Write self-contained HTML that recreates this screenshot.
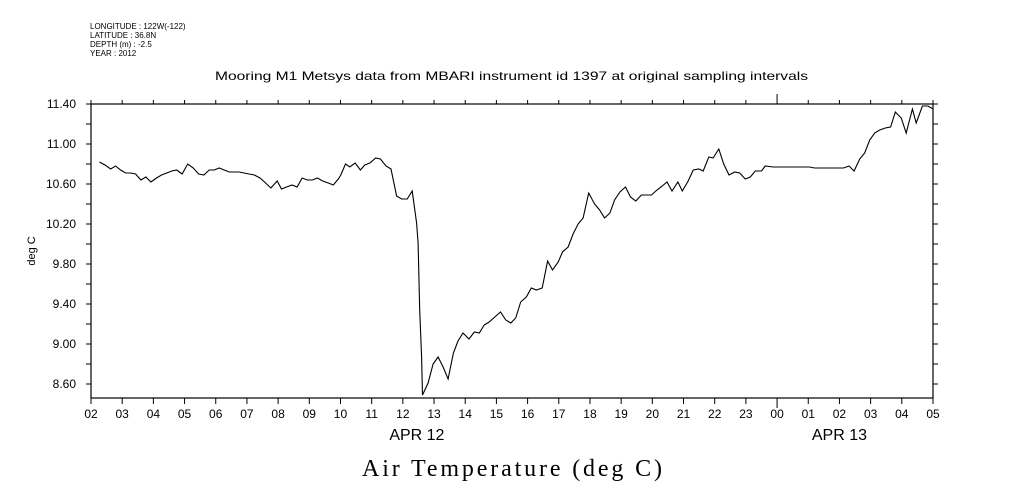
<!DOCTYPE html>
<html><head><meta charset="utf-8"><style>
body{margin:0;background:#fff;width:1009px;height:504px;overflow:hidden}
svg{display:block}
text{font-family:"Liberation Sans",sans-serif;fill:#000}
</style></head><body>
<svg width="1009" height="504" viewBox="0 0 1009 504">
<g font-size="8">
<text x="90" y="29">LONGITUDE : 122W(-122)</text>
<text x="90" y="38">LATITUDE : 36.8N</text>
<text x="90" y="47">DEPTH (m) : -2.5</text>
<text x="90" y="56">YEAR : 2012</text>
</g>
<text x="215" y="80" font-size="12" textLength="593" lengthAdjust="spacingAndGlyphs">Mooring M1 Metsys data from MBARI instrument id 1397 at original sampling intervals</text>
<text x="362" y="476" font-size="24" textLength="300" lengthAdjust="spacing" style="font-family:'Liberation Serif',serif">Air Temperature (deg C)</text>
<text transform="translate(35,251) rotate(-90)" font-size="11" text-anchor="middle">deg C</text>
<rect x="91" y="104" width="842" height="294" fill="none" stroke="#000" stroke-width="1.2"/>
<g id="axes"></g>
<path id="line" fill="none" stroke="#000" stroke-width="1.1"/>
</svg>
<script>
const hourLabels=["02","03","04","05","06","07","08","09","10","11","12","13","14","15","16","17","18","19","20","21","22","23","00","01","02","03","04","05"];
const yTicks=[8.60,9.00,9.40,9.80,10.20,10.60,11.00,11.40];
const dayLabels=["APR 12","APR 13"];
const dayLabelHours=[10.45,24.0];
const times=[0.27,0.45,0.63,0.79,0.95,1.11,1.27,1.43,1.60,1.76,1.92,2.10,2.26,2.43,2.59,2.75,2.92,3.10,3.28,3.45,3.62,3.79,3.95,4.11,4.27,4.43,4.59,4.75,4.91,5.07,5.24,5.42,5.60,5.77,5.97,6.11,6.27,6.45,6.61,6.77,6.94,7.10,7.26,7.43,7.61,7.77,7.93,8.01,8.16,8.30,8.47,8.64,8.78,8.94,9.13,9.28,9.46,9.62,9.80,9.96,10.14,10.30,10.44,10.49,10.54,10.60,10.63,10.81,10.97,11.13,11.29,11.45,11.62,11.77,11.93,12.12,12.29,12.45,12.61,12.77,12.95,13.13,13.30,13.46,13.62,13.78,13.96,14.12,14.28,14.47,14.64,14.80,14.98,15.12,15.30,15.46,15.62,15.78,15.96,16.15,16.31,16.47,16.64,16.79,16.96,17.14,17.30,17.47,17.65,17.97,18.15,18.32,18.47,18.63,18.82,18.96,19.15,19.31,19.49,19.63,19.81,19.95,20.13,20.29,20.46,20.64,20.80,20.98,21.14,21.30,21.50,21.62,21.87,23.04,23.20,24.13,24.31,24.47,24.65,24.81,24.97,25.13,25.29,25.47,25.64,25.79,25.98,26.14,26.34,26.46,26.66,26.84,27.00];
const temps=[10.82,10.79,10.75,10.78,10.74,10.71,10.71,10.70,10.64,10.67,10.62,10.66,10.69,10.71,10.73,10.74,10.70,10.80,10.76,10.70,10.69,10.74,10.74,10.76,10.74,10.72,10.72,10.72,10.71,10.70,10.69,10.66,10.61,10.56,10.63,10.55,10.57,10.59,10.57,10.66,10.64,10.64,10.66,10.63,10.61,10.59,10.65,10.69,10.80,10.77,10.81,10.74,10.79,10.81,10.86,10.85,10.78,10.75,10.48,10.45,10.45,10.53,10.21,10.01,9.34,8.87,8.49,8.61,8.80,8.87,8.77,8.65,8.91,9.03,9.11,9.05,9.12,9.11,9.19,9.22,9.27,9.32,9.24,9.21,9.26,9.42,9.47,9.56,9.54,9.56,9.83,9.74,9.82,9.92,9.97,10.10,10.20,10.26,10.51,10.40,10.34,10.26,10.31,10.44,10.52,10.57,10.47,10.43,10.49,10.49,10.54,10.58,10.62,10.53,10.62,10.53,10.63,10.74,10.75,10.73,10.87,10.86,10.95,10.80,10.69,10.72,10.71,10.65,10.67,10.73,10.73,10.78,10.77,10.77,10.76,10.76,10.78,10.73,10.85,10.91,11.04,11.11,11.14,11.16,11.17,11.32,11.26,11.11,11.35,11.21,11.38,11.38,11.35];
const X0=91,X1=933,Y0=104,Y1=398,TMAX=27,VMIN=8.46,VMAX=11.40;
const xs=t=>X0+(X1-X0)*t/TMAX;
const ys=v=>Y1-(Y1-Y0)*(v-VMIN)/(VMAX-VMIN);
const NS="http://www.w3.org/2000/svg";
const g=document.getElementById('axes');
function mk(tag,a){const e=document.createElementNS(NS,tag);for(const k in a)e.setAttribute(k,a[k]);g.appendChild(e);return e;}
hourLabels.forEach((h,i)=>{
 const x=xs(i);const mid=(h==="00");
 const tb=mk('line',{x1:x,x2:x,y1:Y1,y2:Y1+(mid?10:6),stroke:'#000'});
 
 
 const tt=mk('line',{x1:x,x2:x,y1:Y0,y2:Y0-(mid?10:4),stroke:'#000'});
 
 
 const l=mk('text',{x:x,y:418,'font-size':12,'text-anchor':'middle'});l.textContent=h;
 
 
});
dayLabels.forEach((d,i)=>{
 const l=mk('text',{x:xs(dayLabelHours[i]),y:440,'font-size':16,'text-anchor':'middle'});l.textContent=d;
 
 
});
for(let v=8.60;v<=11.401;v+=0.2){
 const y=ys(v);
 const a=mk('line',{x1:X0-5,x2:X0,y1:y,y2:y,stroke:'#000'});
 
 
 const b=mk('line',{x1:X1,x2:X1+5,y1:y,y2:y,stroke:'#000'});
 
 
}
yTicks.forEach(v=>{
 const l=mk('text',{x:76,y:ys(v)+4,'font-size':12,'text-anchor':'end'});l.textContent=v.toFixed(2);
 
 
});
document.getElementById('line').setAttribute('d',times.map((t,i)=>(i?'L':'M')+xs(t).toFixed(1)+' '+ys(temps[i]).toFixed(1)).join(' '));
</script>
</body></html>
